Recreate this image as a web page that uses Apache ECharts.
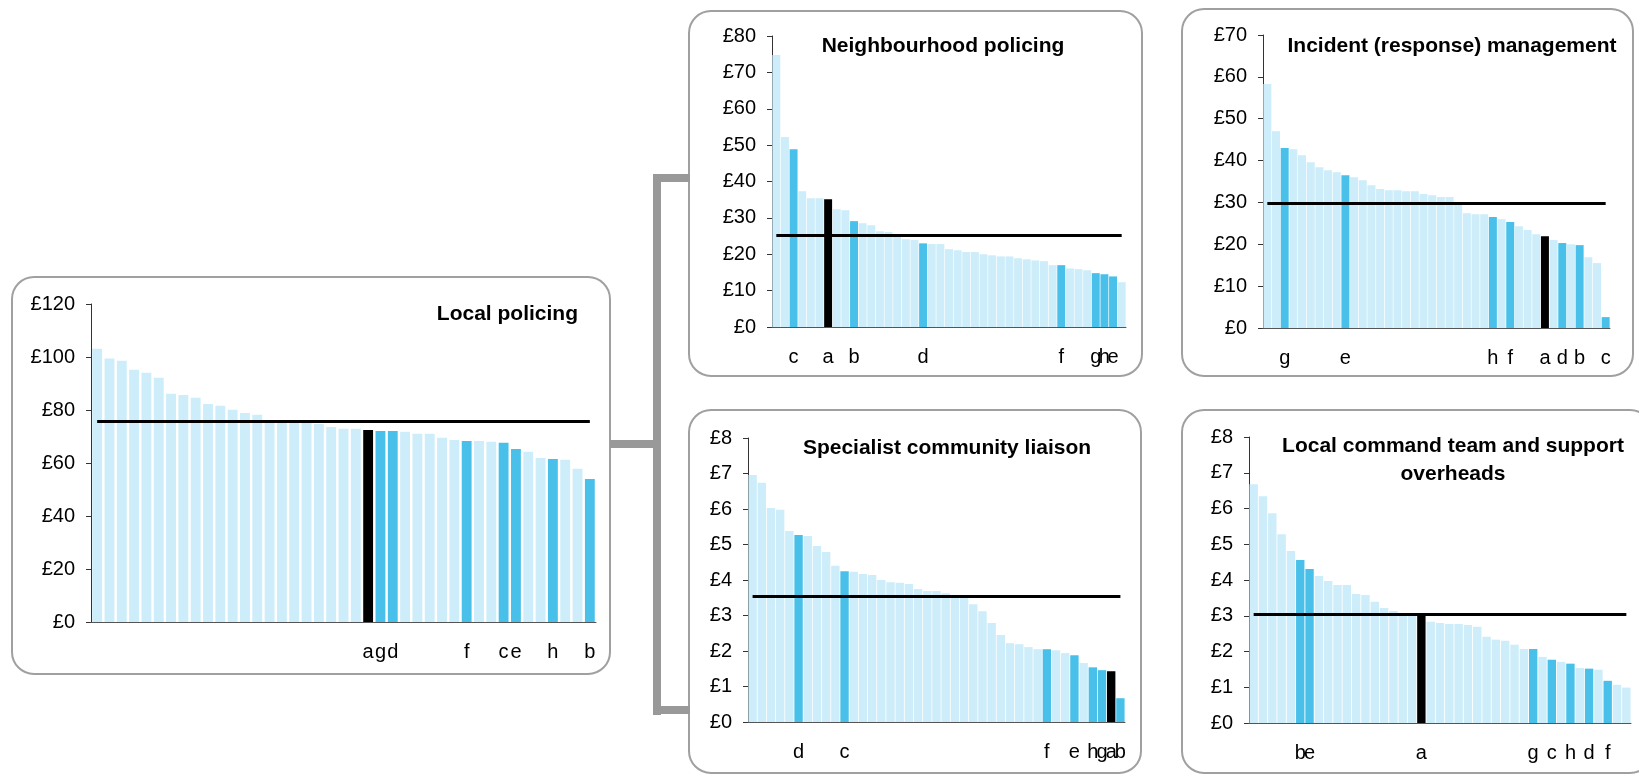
<!DOCTYPE html>
<html><head><meta charset="utf-8">
<script src="https://cdn.jsdelivr.net/npm/echarts@6/dist/echarts.min.js"></script>
<style>html,body{margin:0;padding:0;background:#fff}#c{width:1639px;height:774px}</style>
</head><body><div id="c"></div>
<script>
// ---------- DATA ----------
const localPolicingTitle = 'Local policing';
const localPolicingValues = [103.1, 99.4, 98.6, 95.2, 94.1, 92.2, 86.1, 85.7, 84.6, 82.3, 81.6, 80.1, 78.9, 78.2, 76.0, 75.8, 75.5, 75.2, 74.7, 73.6, 72.9, 72.9, 72.5, 72.1, 72.1, 71.8, 71.0, 71.0, 69.5, 68.7, 68.3, 68.3, 68.0, 67.6, 65.3, 64.2, 61.9, 61.5, 61.2, 57.8, 54.0];
const localPolicingLabels = ['','','','','','','','','','','','','','','','','','','','','','','a','g','d','','','','','','f','','','c','e','','','h','','','b'];
const localPolicingMean = 75.7;
const localPolicingTicks = [0, 120, 20];

const neighbourhoodTitle = 'Neighbourhood policing';
const neighbourhoodValues = [74.8, 52.2, 48.9, 37.3, 35.4, 35.4, 35.1, 32.4, 32.1, 29.1, 28.5, 28.0, 26.3, 26.1, 25.2, 24.1, 23.9, 23.0, 22.8, 22.8, 21.4, 21.1, 20.6, 20.6, 20.0, 19.7, 19.4, 19.4, 18.9, 18.6, 18.3, 18.1, 17.0, 17.0, 16.1, 15.9, 15.6, 14.8, 14.5, 13.9, 12.3];
const neighbourhoodLabels = ['','','c','','','','a','','','b','','','','','','','','d','','','','','','','','','','','','','','','','f','','','','g','h','e',''];
const neighbourhoodMean = 25.3;
const neighbourhoodTicks = [0, 80, 10];

const incidentTitle = 'Incident (response) management';
const incidentValues = [58.3, 47.0, 43.0, 42.7, 41.3, 39.6, 38.4, 37.7, 37.2, 36.5, 36.0, 35.3, 34.1, 33.2, 32.9, 32.9, 32.7, 32.7, 32.0, 31.7, 31.3, 31.3, 30.0, 27.4, 27.2, 27.2, 26.5, 26.0, 25.3, 24.3, 23.4, 22.4, 21.9, 21.0, 20.3, 20.0, 19.8, 16.9, 15.5, 2.6];
const incidentLabels = ['','','g','','','','','','','e','','','','','','','','','','','','','','','','','h','','f','','','','a','','d','','b','','','c'];
const incidentMean = 29.8;
const incidentTicks = [0, 70, 10];

const specialistTitle = 'Specialist community liaison';
const specialistValues = [6.96, 6.74, 6.03, 5.98, 5.38, 5.27, 5.24, 4.96, 4.79, 4.40, 4.25, 4.23, 4.17, 4.14, 4.00, 3.94, 3.92, 3.89, 3.75, 3.69, 3.69, 3.63, 3.57, 3.55, 3.32, 3.12, 2.79, 2.45, 2.22, 2.19, 2.11, 2.05, 2.05, 2.02, 1.94, 1.88, 1.66, 1.54, 1.46, 1.43, 0.67];
const specialistLabels = ['','','','','','d','','','','','c','','','','','','','','','','','','','','','','','','','','','','f','','','e','','h','g','a','b'];
const specialistMean = 3.55;
const specialistTicks = [0, 8, 1];

const commandTitle = 'Local command team and support\noverheads';
const commandValues = [6.68, 6.34, 5.87, 5.28, 4.81, 4.56, 4.31, 4.11, 3.97, 3.86, 3.86, 3.61, 3.58, 3.39, 3.22, 3.13, 3.07, 3.05, 3.05, 2.83, 2.80, 2.77, 2.77, 2.74, 2.69, 2.41, 2.33, 2.30, 2.19, 2.07, 2.07, 1.85, 1.77, 1.71, 1.66, 1.54, 1.52, 1.49, 1.18, 1.07, 0.99];
const commandLabels = ['','','','','','b','e','','','','','','','','','','','','a','','','','','','','','','','','','g','','c','','h','','d','','f','',''];
const commandMean = 3.05;
const commandTicks = [0, 8, 1];

// ---------- LAYOUT / STYLE ----------
const FONT = '"Liberation Sans", Arial, sans-serif';
const LIGHT = '#ccedf9', DARK = '#48c0ea', BLACK = '#000000';

const panels = [
  {title: localPolicingTitle, values: localPolicingValues, labels: localPolicingLabels, mean: localPolicingMean, ticks: localPolicingTicks,
   grid: {left: 91, top: 304, width: 505, height: 318}, gap: '20%',
   box: {x: 12, y: 277, width: 598, height: 397}, titlePos: {x: 578, y: 314, align: 'right'}},
  {title: neighbourhoodTitle, values: neighbourhoodValues, labels: neighbourhoodLabels, mean: neighbourhoodMean, ticks: neighbourhoodTicks,
   grid: {left: 772, top: 36, width: 354, height: 291}, gap: '8%',
   box: {x: 689, y: 11, width: 453, height: 365}, titlePos: {x: 943, y: 46, align: 'center'}},
  {title: incidentTitle, values: incidentValues, labels: incidentLabels, mean: incidentMean, ticks: incidentTicks,
   grid: {left: 1263, top: 35, width: 347, height: 293}, gap: '8%',
   box: {x: 1182, y: 9, width: 451, height: 367}, titlePos: {x: 1452, y: 46, align: 'center'}},
  {title: specialistTitle, values: specialistValues, labels: specialistLabels, mean: specialistMean, ticks: specialistTicks,
   grid: {left: 748, top: 438, width: 377, height: 284}, gap: '9%',
   box: {x: 689, y: 410, width: 452, height: 363}, titlePos: {x: 947, y: 448, align: 'center'}},
  {title: commandTitle, values: commandValues, labels: commandLabels, mean: commandMean, ticks: commandTicks,
   grid: {left: 1249, top: 437, width: 382, height: 286}, gap: '10%',
   box: {x: 1182, y: 410, width: 470, height: 363}, titlePos: {x: 1453, y: 460, align: 'center'}}
];

const grids = [], xAxes = [], yAxes = [], series = [], graphics = [];

panels.forEach((p, i) => {
  grids.push(Object.assign({containLabel: false}, p.grid));
  const cats = p.values.map((v, k) => 'F' + (k + 1));
  xAxes.push({
    type: 'category', gridIndex: i, data: cats, z: 5,
    axisLine: {show: true, lineStyle: {color: '#555', width: 1}},
    axisTick: {show: false},
    axisLabel: {interval: 0, margin: 20, fontSize: 20, color: '#000', fontFamily: FONT,
      formatter: (v, k) => p.labels[k]},
    splitLine: {show: false}
  });
  yAxes.push({
    type: 'value', gridIndex: i, min: p.ticks[0], max: p.ticks[1], interval: p.ticks[2],
    axisLine: {show: true, lineStyle: {color: '#333', width: 1}},
    axisTick: {show: true, length: 5, lineStyle: {color: '#333'}},
    axisLabel: {formatter: '£{value}', fontSize: 20, color: '#000', margin: 16, fontFamily: FONT},
    splitLine: {show: false}
  });
  series.push({
    type: 'bar', xAxisIndex: i, yAxisIndex: i, barCategoryGap: p.gap, animation: false,
    data: p.values.map((v, k) => ({
      value: v,
      itemStyle: {color: p.labels[k] === 'a' ? BLACK : (p.labels[k] ? DARK : LIGHT)}
    })),
    markLine: {
      silent: true, symbol: 'none', animation: false,
      label: {show: false},
      lineStyle: {color: '#000', width: 3, type: 'solid'},
      data: [[{coord: [0, p.mean]}, {coord: [p.values.length - 1, p.mean]}]]
    }
  });
  graphics.push({
    type: 'rect', z: 0, silent: true,
    shape: {x: p.box.x, y: p.box.y, width: p.box.width, height: p.box.height, r: 22},
    style: {fill: 'rgba(0,0,0,0)', stroke: '#a0a0a0', lineWidth: 2}
  });
  graphics.push({
    type: 'text', z: 10, silent: true, x: p.titlePos.x, y: p.titlePos.y,
    style: {text: p.title, fill: '#000', fontSize: 21, fontWeight: 'bold', fontFamily: FONT,
      align: p.titlePos.align, verticalAlign: 'middle', lineHeight: 28}
  });
});

// connector bracket
const GREY = '#999999';
[[610, 440, 51, 8], [653, 174, 8, 541], [653, 174, 37, 8], [653, 706, 37, 8]].forEach(r => {
  graphics.push({type: 'rect', silent: true, z: 1, shape: {x: r[0], y: r[1], width: r[2], height: r[3]}, style: {fill: GREY}});
});

const chart = echarts.init(document.getElementById('c'), null, {renderer: 'canvas'});
chart.setOption({
  backgroundColor: '#ffffff',
  animation: false,
  textStyle: {fontFamily: FONT},
  grid: grids, xAxis: xAxes, yAxis: yAxes, series: series,
  graphic: graphics
});
</script>
</body></html>
